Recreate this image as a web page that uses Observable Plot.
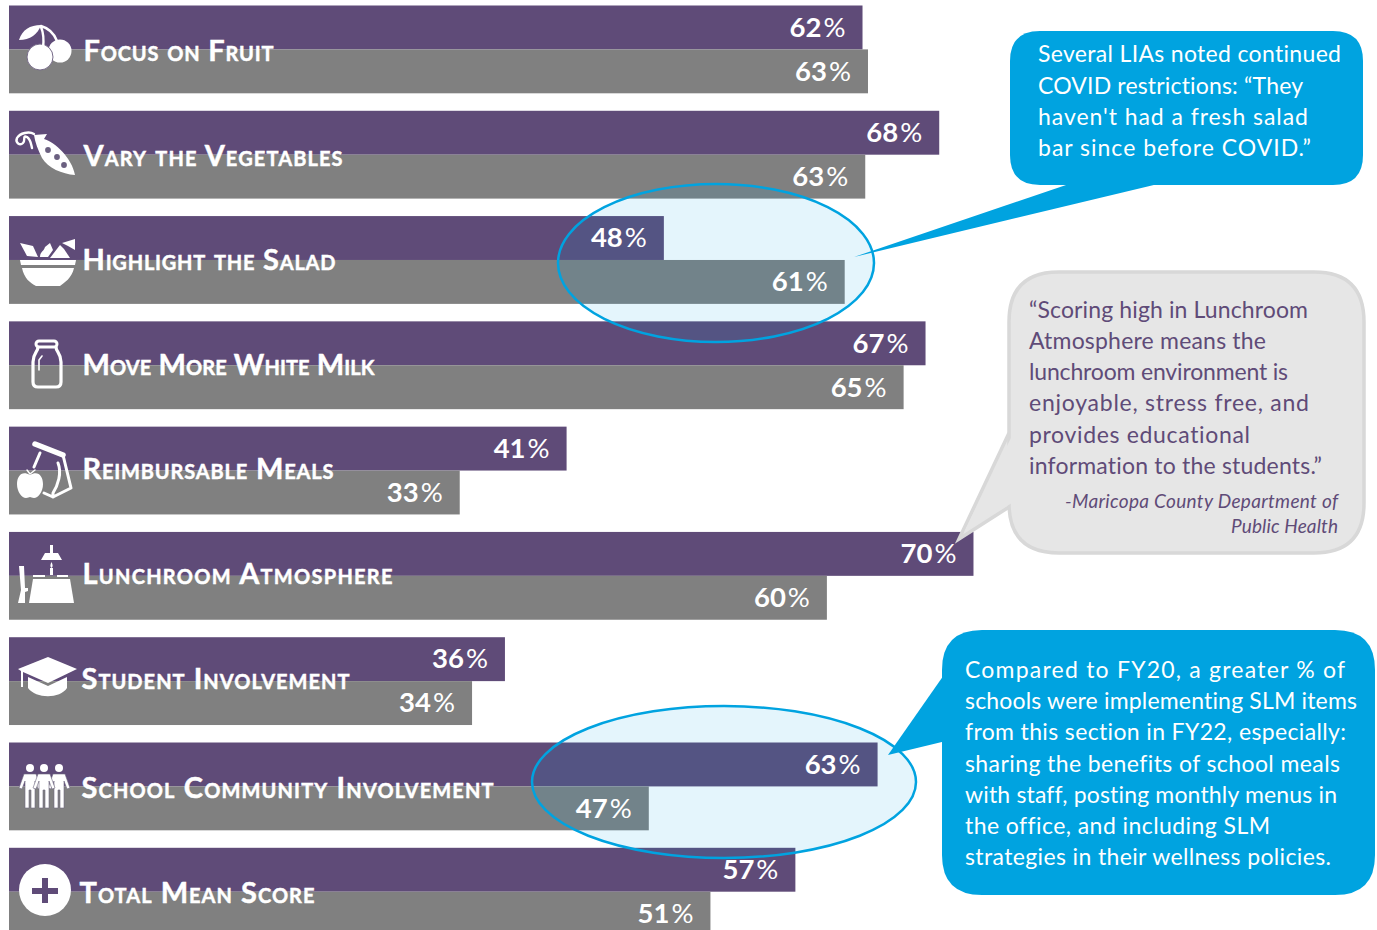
<!DOCTYPE html>
<html>
<head>
<meta charset="utf-8">
<script src="https://cdn.jsdelivr.net/npm/d3@7"></script>
<script src="https://cdn.jsdelivr.net/npm/@observablehq/plot@0.6"></script>
<style>
html,body{margin:0;padding:0;background:#fff;overflow:hidden}
svg{display:block;font-family:Lato,sans-serif}
svg text{font-variant-ligatures:none}
.pct text{font-family:Lato,sans-serif;font-size:27.5px}
.cat text{font-family:Lato,sans-serif;font-weight:700;font-variant-caps:small-caps;font-size:29px;stroke:#fff;stroke-width:.45px}
</style>
</head>
<body>
<div id="chart"></div>
<script>
const categories = ["Focus on Fruit","Vary the Vegetables","Highlight the Salad","Move More White Milk","Reimbursable Meals","Lunchroom Atmosphere","Student Involvement","School Community Involvement","Total Mean Score"];
const purpleValues = [62.3,67.9,47.8,66.9,40.7,70.4,36.2,63.4,57.4];
const greyValues = [62.7,62.5,61.0,65.3,32.9,59.7,33.8,46.7,51.2];
const seriesNames = ["Series A","Series B"];
const seriesColors = ["#5f4b78","#808080"];
const note1 = ["Several LIAs noted continued","COVID restrictions: “They","haven't had a fresh salad","bar since before COVID.”"];
const note2 = ["“Scoring high in Lunchroom","Atmosphere means the","lunchroom environment is","enjoyable, stress free, and","provides educational","information to the students.”"];
const note2Source = ["-Maricopa County Department of","Public Health"];
const note3 = ["Compared to FY20, a greater % of","schools were implementing SLM items","from this section in FY22, especially:","sharing the benefits of school meals","with staff, posting monthly menus in","the office, and including SLM","strategies in their wellness policies."];

const rows = categories.flatMap((category,i)=>[
  {category,series:seriesNames[0],value:purpleValues[i]},
  {category,series:seriesNames[1],value:greyValues[i]}
]);

const svgEl = name => d3.create("svg:"+name);
const overlay = fn => Plot.frame({facet:"super",render:()=>fn()});

function ellipses(){
  const g = svgEl("g");
  for (const [cx,cy,rx,ry] of [[716,263,158,79],[724,782,192,76]])
    g.append("ellipse").attr("cx",cx).attr("cy",cy).attr("rx",rx).attr("ry",ry)
      .attr("fill","#00a3e0").attr("fill-opacity",0.105).attr("stroke","#00a3e0").attr("stroke-width",2.5);
  return g.node();
}

function icons(){
  const g = svgEl("g").attr("fill","#fff");
  const P = "#5f4b78";
  const path=(d,o={})=>{const p=g.append("path").attr("d",d);for(const k in o)p.attr(k,o[k]);return p;};
  const line={fill:"none",stroke:"#fff","stroke-width":2.4,"stroke-linecap":"round","stroke-linejoin":"round"};
  // cherries
  g.append("circle").attr("cx",60).attr("cy",51).attr("r",11.5);
  g.append("circle").attr("cx",40).attr("cy",57).attr("r",13).attr("stroke","#766a88").attr("stroke-width",1);
  path("M41,27C44,34 44,40 43,48M41,26C48,28 54,33 57,41",line);
  path("M19,40C22,30 30,25 41,25C38,34 30,40 19,40Z");
  // pea pod
  path("M34,135L47,134L44,139C55,142 72,158 75,175C62,174 48,168 42,158C38,150 35,142 34,135Z");
  g.selectAll(null).data([[48,150],[57,157],[64,165]]).join("circle").attr("cx",d=>d[0]).attr("cy",d=>d[1]).attr("r",2.9).attr("fill","#6b6080");
  path("M34,134C29,131 20,133 17,138C15,143 20,146 23,143C26,140 22,135 27,137C31,140 31,144 32,148",line);
  // salad bowl
  path("M20,260L76,260L75,265L21,265Z");
  path("M22,268L74,268C72,278 64,283 60,286L36,286C30,283 24,278 22,268Z");
  path("M20,243L33,246L38,257L27,256Z");
  path("M40,257C40,252 44,251 45,247L50,243L53,250L48,257Z");
  path("M50,258L60,245L64,249L70,258Z");
  path("M62,243L75,239L75,250L68,246Z");
  // milk
  g.append("rect").attr("x",36).attr("y",341).attr("width",21).attr("height",6).attr("rx",3).attr("fill","none").attr("stroke","#fff").attr("stroke-width",3);
  path("M38,347C38,352 33,353 33,362L33,382Q33,387 38,387L56,387Q61,387 61,382L61,362C61,353 56,352 56,347",{...line,"stroke-width":3.2});
  path("M42,356L39,360L39,370",{...line,"stroke-width":1.6});
  // bag and apple
  path("M35,444L63,455",{...line,"stroke-width":5.5});
  path("M40,453L34,467M63,455L71,488L53,497L44,493M58,463C62,473 58,485 53,493L53,497",{...line,"stroke-width":3});
  path("M30,475C22,470 17,476 17,484C17,492 22,498 26,498C28,498 29,497 30,497C31,497 32,498 34,498C38,498 43,492 43,484C43,476 38,470 30,475Z");
  path("M30,474L27,470M30,474L35,470",{...line,"stroke-width":1.4});
  // table
  path("M50,545H53V553H58L62,560H41L45,553H50Z");
  path("M50,568H53V575H50ZM51.5,562C53,565 53,567 51.5,568C50,567 50,565 51.5,562Z");
  path("M33,575H45V577H33ZM57,575H68V577H57Z");
  path("M33,579H70L74,603H29Z");
  path("M19,566H24L25,588H28V591L25,592V603H18L21,590Z");
  // cap
  path("M18,669L48,657L77,669L48,683L23,672V687H21V671Z");
  path("M28,677L48,686L67,677V688C60,699 36,699 28,688Z");
  // people
  for (const cx of [30,59,44]) {
    g.append("circle").attr("cx",cx).attr("cy",768).attr("r",4);
    path("M-6,774L6,774L11,788L8,789L5,781L5,808L1,808L1,790L-1,790L-1,808L-5,808L-5,781L-8,789L-11,788Z",{transform:`translate(${cx},0)`,stroke:"#6f6880","stroke-width":0.6});
  }
  // plus
  g.append("circle").attr("cx",45).attr("cy",890).attr("r",26);
  path("M42,878H48V888H58V894H48V903H42V894H32V888H42Z",{fill:P});
  return g.node();
}

function bubbles(){
  const g = svgEl("g").attr("font-family","Lato, sans-serif");
  const blue="#00a3e0", grey="#e6e6e6", purple="#5f4b78";
  const rr=(x0,y0,x1,y1,r)=>`M${x0+r},${y0}H${x1-r}Q${x1},${y0} ${x1},${y0+r}V${y1-r}Q${x1},${y1} ${x1-r},${y1}H${x0+r}Q${x0},${y1} ${x0},${y1-r}V${y0+r}Q${x0},${y0} ${x0+r},${y0}Z`;
  g.append("path").attr("d",rr(1010,31,1363,185,30)).attr("fill",blue);
  g.append("path").attr("d","M1069,184L854,257L1158,184Z").attr("fill",blue);
  g.append("path").attr("d",`M1009,433L959,539L1009,507`).attr("fill",grey).attr("stroke","#d8d8d8").attr("stroke-width",3.5);
  g.append("path").attr("d",rr(1009,272,1364,553,50)).attr("fill",grey).attr("stroke","#d8d8d8").attr("stroke-width",3.5);
  g.append("path").attr("d",`M1012,436L964,532L1012,503Z`).attr("fill",grey);
  g.append("path").attr("d",rr(942,630,1375,895,40)).attr("fill",blue);
  g.append("path").attr("d","M946,672L888,755L946,741Z").attr("fill",blue);
  const lines=(arr,x,ys,lens,fill,size,anchor="start",style="normal")=>{
    arr.forEach((t,i)=>g.append("text").attr("x",x).attr("y",ys[i]).attr("fill",fill).attr("font-size",size)
      .attr("textLength",lens[i]).attr("lengthAdjust","spacing")
      .attr("text-anchor",anchor).attr("font-style",style).text(t));
  };
  lines(note1,1038,[62,94,125,156],[303,265,270,273],"#fff",23);
  lines(note2,1029,[318,349,380,411,443,474],[279,237,259,280,221,293],purple,23);
  lines(note2Source,1338,[508,533],[273,107],purple,19,"end","italic");
  lines(note3,965,[678,709,740,772,803,834,865],[380,392,381,375,372,305,366],"#fff",23);
  return g.node();
}

// hand-fitted label placement: [left edge, vertical nudge, drawn width]
const labelFit = [[83,2,190],[83,2,259],[82,0,253],[82,0,292],[82,-1,251],[82,-2,310],[81,-2,268],[81,2,412],[79,2,235]];

const chart = Plot.plot({
  width:1377,
  height:930,
  marginLeft:0,marginRight:0,marginTop:0,marginBottom:0,
  x:{domain:[0,100],range:[9,1379],axis:null},
  y:{domain:seriesNames,padding:0,axis:null,round:false},
  fy:{domain:categories,range:[5.5,935.6],round:false,paddingInner:0.166,paddingOuter:0,axis:null},
  color:{domain:seriesNames,range:seriesColors},
  marks:[
    Plot.barX(rows,{x:"value",y:"series",fy:"category",fill:"series"}),
    overlay(ellipses),
    Plot.text(rows,{x:"value",y:"series",fy:"category",text:d=>Math.round(d.value)+"%",textAnchor:"end",dx:-17.5,fill:"#fff",className:"pct"}),
    ...categories.map((c,i)=>Plot.text([c],{fy:d=>d,text:d=>d,frameAnchor:"left",dx:labelFit[i][0],dy:labelFit[i][1],fill:"#fff",className:"cat"})),
    overlay(icons),
    overlay(bubbles)
  ]
});
document.getElementById("chart").append(chart);
d3.select(chart).selectAll(".pct text").each(function(){
  const s=this.textContent, el=d3.select(this);
  el.text(null);
  el.append("tspan").attr("font-weight",700).text(s.slice(0,-1));
  el.append("tspan").attr("font-weight",400).attr("dx",2).text("%");
});
d3.select(chart).selectAll(".cat text").each(function(){
  const i=categories.indexOf(this.textContent);
  if(i>=0) d3.select(this).attr("textLength",labelFit[i][2]).attr("lengthAdjust","spacing");
});
</script>
</body>
</html>
